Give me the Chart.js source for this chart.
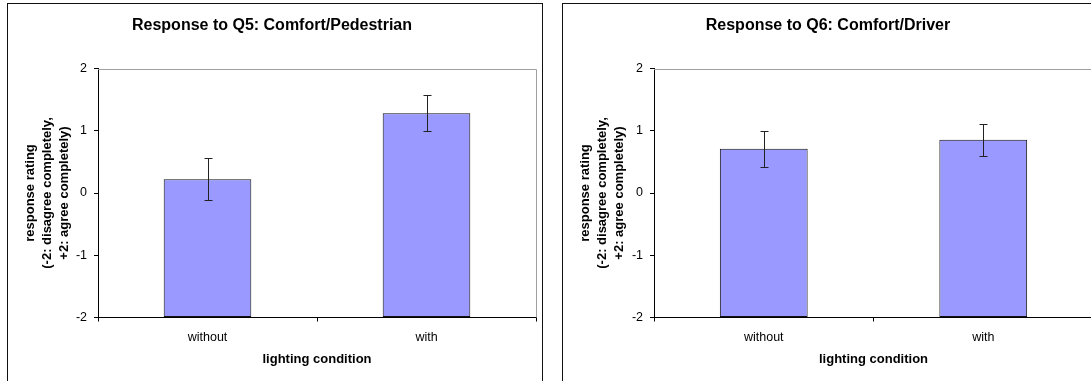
<!DOCTYPE html>
<html>
<head>
<meta charset="utf-8">
<script src="https://cdn.jsdelivr.net/npm/chart.js@4.4.1/dist/chart.umd.min.js"></script>
<style>
    html, body { margin: 0; padding: 0; background: #fff; overflow: hidden; }
    body { width: 1091px; height: 381px; position: relative; }
    .box { position: absolute; top: 3px; border: 1px solid #111; height: 420px; }
    #box1 { left: 7px; width: 534px; }
    #box2 { left: 562px; width: 536px; }
    canvas { position: absolute; left: 0; top: 0; }
</style>
</head>
<body>
<div class="box" id="box1"><canvas id="chartQ5" width="534" height="377"></canvas></div>
<div class="box" id="box2"><canvas id="chartQ6" width="536" height="377"></canvas></div>

<script>
// dữ liệu
const categories = ['without', 'with'];
const q5Means = [0.22, 1.28];
const q5Errors = [0.34, 0.29];
const q6Means = [0.71, 0.855];
const q6Errors = [0.285, 0.255];
const yMin = -2, yMax = 2, yStep = 1;
const yTitle = ['response rating', '(-2: disagree completely,', '+2: agree completely)'];
const xTitle = 'lighting condition';

const FONT = "'Liberation Sans', Arial, sans-serif";

// vẽ thanh sai số
const errorBars = {
    id: 'errorBars',
    afterDatasetsDraw(chart) {
        const ctx = chart.ctx;
        const y = chart.scales.y;
        const errs = chart.options.plugins.errorBars.errors;
        const means = chart.data.datasets[0].data;
        chart.getDatasetMeta(0).data.forEach(function(bar, i) {
            const x = Math.round(bar.x) + 0.5;
            const top = Math.round(y.getPixelForValue(means[i] + errs[i])) + 0.5;
            const bot = Math.round(y.getPixelForValue(means[i] - errs[i])) + 0.5;
            ctx.save();
            ctx.strokeStyle = '#222';
            ctx.lineWidth = 1;
            ctx.beginPath();
            ctx.moveTo(x, top); ctx.lineTo(x, bot);
            ctx.moveTo(x - 4, top); ctx.lineTo(x + 4, top);
            ctx.moveTo(x - 4, bot); ctx.lineTo(x + 4, bot);
            ctx.stroke();
            ctx.restore();
        });
    }
};

// khung xám phía trên và bên phải vùng vẽ
const plotFrame = {
    id: 'plotFrame',
    beforeDatasetsDraw(chart) {
        const a = chart.chartArea;
        const ctx = chart.ctx;
        ctx.save();
        ctx.strokeStyle = '#a0a0a0';
        ctx.lineWidth = 1;
        ctx.beginPath();
        ctx.moveTo(a.left, Math.round(a.top) + 0.5);
        ctx.lineTo(Math.round(a.right) + 0.5, Math.round(a.top) + 0.5);
        ctx.lineTo(Math.round(a.right) + 0.5, a.bottom);
        ctx.stroke();
        ctx.restore();
    }
};

function makeChart(id, title, means, errs, yWidth) {
    const ctx = document.getElementById(id).getContext('2d');
    return new Chart(ctx, {
        type: 'bar',
        data: {
            labels: categories,
            datasets: [{
                data: means,
                base: yMin, // thanh bắt đầu từ -2 như Excel
                backgroundColor: '#9999ff',
                borderColor: '#111',
                borderWidth: 1,
                borderSkipped: false,
                barPercentage: 0.4,
                categoryPercentage: 1.0
            }]
        },
        options: {
            responsive: false,
            animation: false,
            layout: { padding: { left: 0, right: 6, top: 0, bottom: 0 } },
            plugins: {
                legend: { display: false },
                tooltip: { enabled: false },
                title: {
                    display: true,
                    text: title,
                    color: '#000',
                    font: { family: FONT, size: 16, weight: 'bold', lineHeight: 1.2 },
                    padding: { top: 12.4, bottom: 32.9 }
                },
                errorBars: { errors: errs }
            },
            scales: {
                x: {
                    afterFit: function(scale) { scale.height = 63.5; },
                    grid: { drawOnChartArea: false, drawTicks: true, tickLength: 4, color: '#000', offset: true },
                    border: { display: true, color: '#000', width: 1 },
                    ticks: { color: '#000', padding: 9, font: { family: FONT, size: 12.5 } },
                    title: {
                        display: true,
                        text: xTitle,
                        color: '#000',
                        font: { family: FONT, size: 13, weight: 'bold', lineHeight: 1.2 },
                        padding: { top: 0, bottom: 14.2 }
                    }
                },
                y: {
                    min: yMin,
                    max: yMax,
                    afterFit: function(scale) { scale.width = yWidth; },
                    grid: { drawOnChartArea: false, drawTicks: true, tickLength: 4, color: '#000' },
                    border: { display: true, color: '#000', width: 1 },
                    ticks: { stepSize: yStep, color: '#000', padding: 7, font: { family: FONT, size: 12.5 } },
                    title: {
                        display: true,
                        text: yTitle,
                        color: '#000',
                        font: { family: FONT, size: 13, weight: 'bold', lineHeight: 1.3 },
                        padding: { top: 14, bottom: 0 }
                    }
                }
            }
        },
        plugins: [plotFrame, errorBars]
    });
}

document.addEventListener('DOMContentLoaded', function() {
    makeChart('chartQ5', 'Response to Q5: Comfort/Pedestrian', q5Means, q5Errors, 90);
    makeChart('chartQ6', 'Response to Q6: Comfort/Driver', q6Means, q6Errors, 91);
});
</script>
</body>
</html>
